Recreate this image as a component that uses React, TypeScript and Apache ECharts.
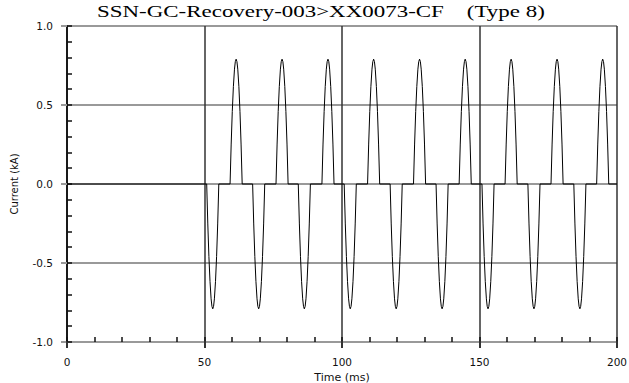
import React, { useEffect, useRef } from "react";
import * as echarts from "echarts";

// Title and axis names
const titleText = "SSN-GC-Recovery-003>XX0073-CF    (Type 8)";
const xName = "Time (ms)";
const yName = "Current (kA)";

// Pulse centres (ms) and peak values (kA)
const negCenters = [53.0, 69.7, 86.3, 103.0, 119.7, 136.4, 153.1, 169.8, 186.5];
const negPeaks = [-0.79, -0.79, -0.79, -0.79, -0.79, -0.79, -0.79, -0.79, -0.79];
const posCenters = [61.5, 78.2, 94.9, 111.5, 128.2, 144.8, 161.5, 178.2, 194.8];
const posPeaks = [0.79, 0.79, 0.79, 0.79, 0.79, 0.79, 0.79, 0.79, 0.79];

// Shape of one pulse: offset from centre (ms) and fraction of the peak
const pulseOffsets = [-2.2, -1.8, -1.4, -1.0, -0.6, -0.3, 0, 0.3, 0.6, 1.0, 1.4, 1.8, 2.2];
const pulseShape = [0, 0.32, 0.58, 0.78, 0.92, 0.98, 1, 0.98, 0.92, 0.78, 0.58, 0.32, 0];

// Axis range
const xStart = 0;
const xEnd = 200;

function buildSeries(): [number, number][] {
  const pulses: { c: number; p: number }[] = [];
  negCenters.forEach((c, i) => pulses.push({ c, p: negPeaks[i] }));
  posCenters.forEach((c, i) => pulses.push({ c, p: posPeaks[i] }));
  pulses.sort((a, b) => a.c - b.c);
  const pts: [number, number][] = [[xStart, 0]];
  pulses.forEach(({ c, p }) => {
    pulseOffsets.forEach((o, j) => pts.push([c + o, p * pulseShape[j]]));
  });
  pts.push([xEnd, 0]);
  return pts;
}

export default function App() {
  const ref = useRef<HTMLDivElement>(null);
  useEffect(() => {
    if (!ref.current) return;
    const chart = echarts.init(ref.current, undefined, { renderer: "svg" });
    const sans = "'DejaVu Sans', Verdana, sans-serif";
    chart.setOption({
      animation: false,
      backgroundColor: "#fff",
      graphic: [
        {
          type: "text",
          x: 97,
          y: 3,
          scaleX: 1.35,
          z: 10,
          style: {
            text: titleText,
            fontFamily: "'Liberation Serif', 'Times New Roman', serif",
            fontSize: 17,
            fill: "#000",
            textAlign: "left",
            textVerticalAlign: "top",
          },
        },
      ],
      grid: { left: 67, right: 12, top: 26, bottom: 41, containLabel: false, outerBoundsMode: "none" },
      xAxis: [
        {
          type: "value",
          min: 0,
          max: 200,
          interval: 50,
          name: xName,
          nameLocation: "middle",
          nameGap: 26,
          nameTextStyle: { fontFamily: sans, fontSize: 11, color: "#111" },
          axisLine: { show: true, onZero: false, lineStyle: { color: "#999", width: 2 } },
          axisTick: { show: true, inside: false, length: 6, lineStyle: { color: "#333", width: 2 } },
          axisLabel: { margin: 14, fontFamily: sans, fontSize: 10.5, color: "#111" },
          splitLine: { show: true, lineStyle: { color: "#333", width: 1.5 } },
        },
        {
          type: "value",
          min: 0,
          max: 200,
          interval: 10,
          position: "bottom",
          axisLine: { show: false, onZero: false },
          axisTick: { show: true, inside: true, length: 5, lineStyle: { color: "#111", width: 1.5 } },
          axisLabel: { show: false },
          splitLine: { show: false },
        },
      ],
      yAxis: [
        {
          type: "value",
          min: -1,
          max: 1,
          interval: 0.5,
          name: yName,
          nameLocation: "middle",
          nameRotate: 90,
          nameGap: 48,
          nameTextStyle: { fontFamily: sans, fontSize: 10, color: "#111" },
          axisLine: { show: true, onZero: false, lineStyle: { color: "#000", width: 1.5 } },
          axisTick: { show: true, inside: false, length: 6, lineStyle: { color: "#999", width: 2 } },
          axisLabel: {
            margin: 14,
            fontFamily: sans,
            fontSize: 10.5,
            color: "#111",
            formatter: (v: number) => v.toFixed(1),
          },
          splitLine: { show: true, lineStyle: { color: "#999", width: 2 } },
        },
        {
          type: "value",
          min: -1,
          max: 1,
          interval: 0.1,
          position: "left",
          axisLine: { show: false, onZero: false },
          axisTick: { show: true, inside: true, length: 5, lineStyle: { color: "#111", width: 1.5 } },
          axisLabel: { show: false },
          splitLine: { show: false },
        },
      ],
      series: [
        {
          type: "line",
          data: buildSeries(),
          showSymbol: false,
          symbol: "none",
          lineStyle: { color: "#000", width: 1 },
          z: 5,
        },
      ],
    });
    return () => chart.dispose();
  }, []);
  return <div ref={ref} style={{ width: 629, height: 383, position: "absolute", left: 0, top: 0 }} />;
}
